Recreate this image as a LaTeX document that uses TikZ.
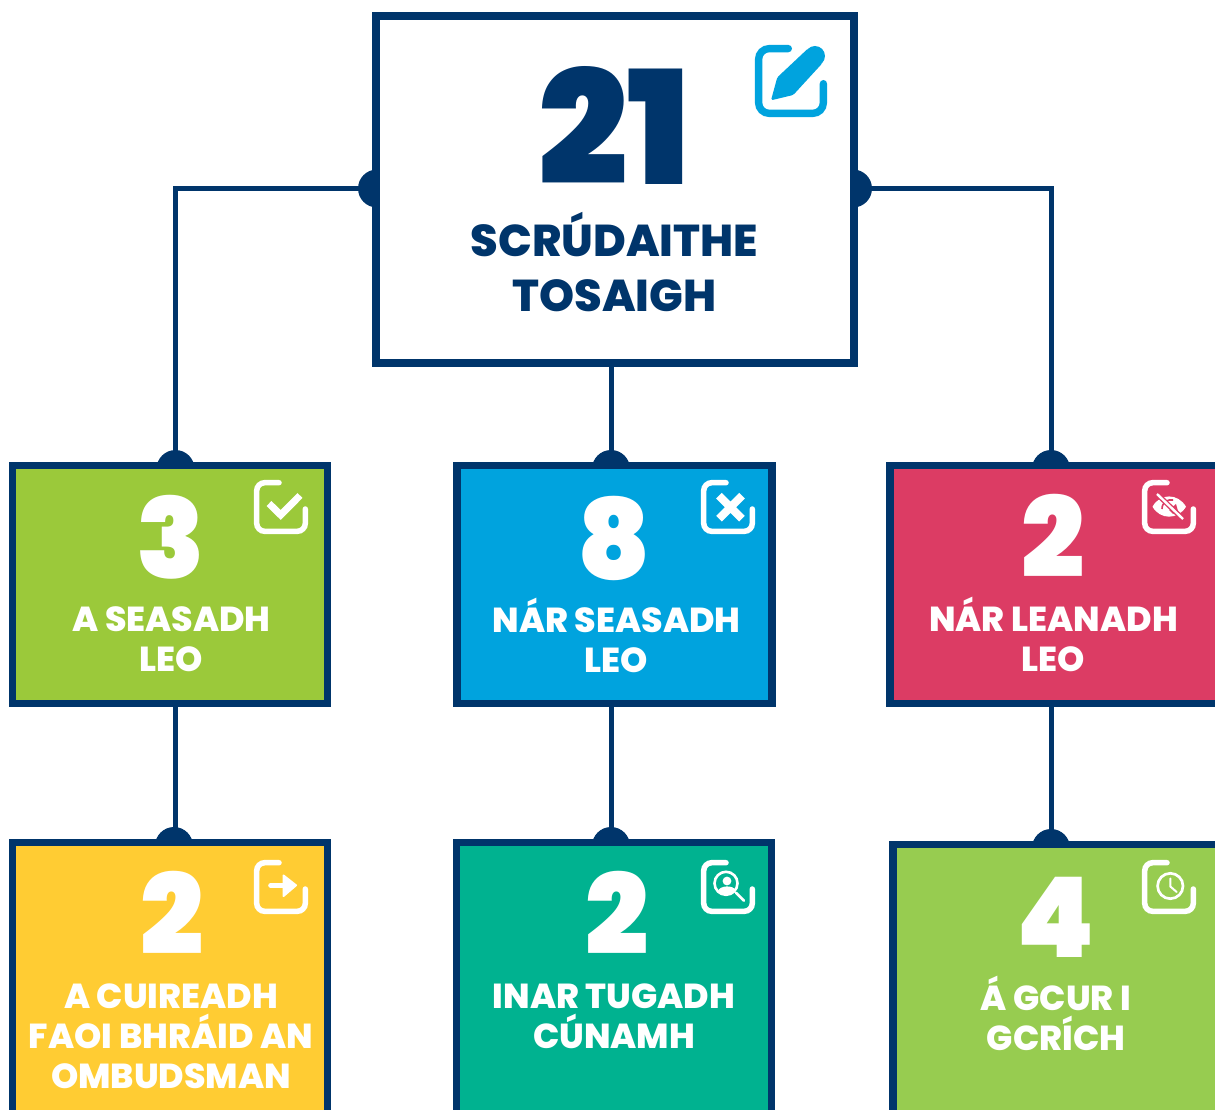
\documentclass[tikz,border=0pt]{standalone}
\usepackage{fontspec}
\usetikzlibrary{backgrounds}
\newfontfamily\popfont{Poppins}[UprightFont={* Black},BoldFont={* Black}]
\newfontfamily\poplbl{Poppins}[UprightFont={* ExtraBold},BoldFont={* ExtraBold}]
\definecolor{navy}{HTML}{00356B}
\definecolor{cgreen}{HTML}{9BC93A}
\definecolor{cblue}{HTML}{00A3DE}
\definecolor{cred}{HTML}{DC3C64}
\definecolor{cyellow}{HTML}{FFCC33}
\definecolor{cteal}{HTML}{00B290}
\definecolor{clime}{HTML}{97CC50}
\newcommand{\iconframe}[4]{%
  \draw[#4,line width=#3*5.5pt,line cap=round,rounded corners=#3*8pt,shift={(#1,#2)},x=#3*1pt,y=-#3*1pt]
    (25,2.7) -- (2.7,2.7) -- (2.7,51.3) -- (51.3,51.3) -- (51.3,29);}
\tikzset{
  box/.style={draw=navy,rectangle,inner sep=0pt,outer sep=0pt},
  bigbox/.style={box,line width=8pt,fill=white},
  smallbox/.style={box,line width=7.5pt},
  conn/.style={draw=navy,line width=5pt},
  dotmark/.style={fill=navy,draw=none},
  digit/.style={text=white,font=\popfont\fontsize{111.5}{111.5}\selectfont,anchor=base,inner sep=0pt},
  lbl/.style={text=white,font=\poplbl\fontsize{34.7}{40}\selectfont,align=center,anchor=center,inner sep=0pt},
  icon/.style={line width=2.6pt},
}
\begin{document}
\begin{tikzpicture}[x=1pt,y=-1pt]
\useasboundingbox (0,0) rectangle (1215,1110);
% boxes
\node[bigbox,minimum width=478pt,minimum height=347pt] (main) at (615,189.5) {};
\node[smallbox,fill=cgreen,minimum width=315pt,minimum height=238pt] (a) at (170,584.5) {};
\node[smallbox,fill=cblue,minimum width=315pt,minimum height=238pt] (b) at (614.5,584.5) {};
\node[smallbox,fill=cred,minimum width=400pt,minimum height=238pt] (c) at (1090,584.5) {};
\node[smallbox,fill=cyellow,minimum width=315pt,minimum height=340pt] (d) at (170,1012.5) {};
\node[smallbox,fill=cteal,minimum width=315pt,minimum height=340pt] (e) at (614,1012.5) {};
\node[smallbox,fill=clime,minimum width=400pt,minimum height=340pt] (f) at (1093,1014.5) {};
% connection points
\coordinate (ml) at (377,188.5);
\coordinate (mr) at (853,188.5);
\coordinate (mb) at (611,363);
\coordinate (at) at (175.5,469);
\coordinate (bt) at (611,469);
\coordinate (ct) at (1051,469);
\coordinate (ab) at (175.5,703);
\coordinate (bb) at (611,703);
\coordinate (cb) at (1051,703);
\coordinate (dt) at (175.5,846);
\coordinate (et) at (611,846);
\coordinate (ft) at (1051,848);
\begin{scope}[on background layer]
  \draw[conn] (ml) -| (at);
  \draw[conn] (mr) -| (ct);
  \draw[conn] (mb) -- (bt);
  \draw[conn] (ab) -- (dt);
  \draw[conn] (bb) -- (et);
  \draw[conn] (cb) -- (ft);
  \foreach \p in {ml,mr,at,bt,ct,et,ft}{\fill[dotmark] (\p) circle[radius=19pt];}
  \fill[dotmark] (174,846) circle[radius=19pt];
\end{scope}
% texts
\node[text=navy,font=\popfont\fontsize{158}{158}\selectfont,anchor=base,inner sep=0pt] (n0) at (614.5,185) {21};
\node[text=navy,font=\poplbl\fontsize{44.6}{55}\selectfont,align=center,inner sep=0pt] (t0) at (614.5,262) {SCRÚDAITHE\\TOSAIGH};
\node[digit] (n1) at (170.5,578) {3};
\node[lbl] (t1) at (171.5,639) {A SEASADH\\LEO};
\node[digit] (n2) at (614,579) {8};
\node[lbl] (t2) at (616.5,635) {NÁR SEASADH\\LEO};
\node[digit] (n3) at (1053.5,577) {2};
\node[lbl] (t3) at (1053.5,634) {NÁR LEANADH\\LEO};
\node[digit] (n4) at (172.5,954) {2};
\node[lbl] (t4) at (171,1036) {A CUIREADH\\FAOI BHRÁID AN\\OMBUDSMAN};
\node[digit] (n5) at (617,954) {2};
\node[lbl] (t5) at (614,1016) {INAR TUGADH\\CÚNAMH};
\node[digit] (n6) at (1056,957) {4};
\node[lbl] (t6) at (1056,1013) {Á GCUR I\\GCRÍCH};
% main pen icon
\iconframe{755}{45}{1.333}{cblue}
\begin{scope}[shift={(755,45)},x=1.333pt,y=-1.333pt]
  \fill[cblue,rounded corners=1.5pt] (12,41.5) -- (16.7,24.3) -- (39.7,2.7) -- (50.5,13.7) -- (28.7,37.5) -- cycle;
  \fill[cblue] (45,8.25) circle[radius=7.5*1.333pt];
\end{scope}
% check
\iconframe{254}{480}{1}{white}
\begin{scope}[shift={(254,480)}]
  \draw[white,line width=7pt] (15,23.5) -- (26.7,35) -- (46,15.5);
\end{scope}
% cross
\iconframe{701}{480}{1}{white}
\begin{scope}[shift={(701,480)}]
  \draw[white,line width=8pt] (18,15.7) -- (41,38.7) (41,15.7) -- (18,38.7);
\end{scope}
% eye off
\iconframe{1142}{480}{1}{white}
\begin{scope}[shift={(1142,480)}]
  \fill[white] (10.5,26.7) .. controls (18,13) and (36,13) .. (44,26.7) .. controls (36,40) and (18,40) .. cycle;
  \draw[cred,line width=1.6pt] (20,29) .. controls (20,22) and (26,19) .. (31,20);
  \fill[cred] (27,30) -- (34,24) -- (36,31) -- (31,34) -- cycle;
  \draw[cred,line width=5pt] (15,14) -- (41,39);
  \draw[white,line width=2.4pt] (15,14) -- (41,39);
\end{scope}
% arrow
\iconframe{254}{860}{1}{white}
\begin{scope}[shift={(254,860)}]
  \draw[white,line width=5pt,line cap=round] (16.7,25.3) -- (32,25.3);
  \fill[white,draw=white,line width=2pt,line join=round] (29.5,15.5) -- (42,25.3) -- (29.5,36) -- cycle;
\end{scope}
% search user
\iconframe{701}{860}{1}{white}
\begin{scope}[shift={(701,860)}]
  \draw[white,icon] (25,23.3) circle[radius=11.5pt];
  \fill[white] (26,21) circle[radius=4.4pt];
  \fill[white] (17,31.5) .. controls (18,25) and (33,25) .. (34,30) .. controls (30,35) and (21,35) .. cycle;
  \draw[white,icon,line cap=round] (35,32.7) -- (43,40.7);
\end{scope}
% clock
\iconframe{1142}{860}{1}{white}
\begin{scope}[shift={(1142,860)}]
  \draw[white,line width=2.7pt] (28.3,26) circle[radius=12.7pt];
  \draw[white,line width=2pt,line cap=round,line join=round] (28.3,18.5) -- (28.3,26.5) -- (34.7,32);
\end{scope}
\end{tikzpicture}
\end{document}
